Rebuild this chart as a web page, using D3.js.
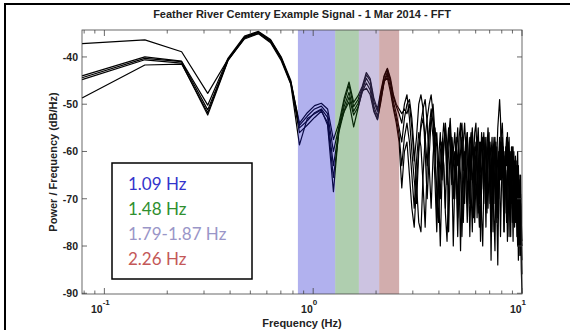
<!DOCTYPE html>
<html>
<head>
<meta charset="utf-8">
<script src="https://cdn.jsdelivr.net/npm/d3@7"></script>
<style>
  body { margin: 0; background: #fff; }
  svg { display: block; }
  .tick-label { font-family: "Liberation Sans", Arial, sans-serif; font-weight: bold; font-size: 10.5px; fill: #222; }
  .axis-title { font-family: "Liberation Sans", Arial, sans-serif; font-weight: bold; font-size: 11px; fill: #222; }
  .legend-text { font-family: Lato, "Open Sans", sans-serif; font-size: 17px; }
</style>
</head>
<body>
<svg id="chart"></svg>
<script>
// FFT bin width (Hz) - bins run 1..128 so the last one lands on 10 Hz
const binWidth = 0.078125;

// power spectral density of each trace, dB/Hz, one value per bin
const traceA = [
  -37.2, -36.4, -38.9, -47.7, -40.5, -35.8, -34.7, -36.5, -40.2, -45.3,
  -54.0, -51.8, -50.3, -49.8, -51.0, -57.5, -54.0, -48.8, -45.3, -49.6,
  -48.2, -46.2, -43.3, -44.6, -48.8, -51.0, -47.2, -43.9, -42.4, -44.5,
  -48.0, -50.0, -51.0, -52.0, -51.0,
  -52, -50, -55, -62, -57, -50, -48, -51, -60, -70,
  -61, -53, -50, -56, -74, -62, -56, -66, -60, -54,
  -59, -77, -63, -57, -61, -70, -60, -55, -66, -81,
  -65, -58, -54, -60, -71, -62, -57, -66, -56, -61,
  -75, -66, -59, -55, -63, -79, -67, -60, -65, -57,
  -62, -73, -63, -56, -66, -83, -68, -61, -57, -63,
  -71, -61, -55, -52, -49, -53, -64, -58, -67, -77,
  -65, -59, -63, -56, -69, -78, -66, -60, -71, -64,
  -59, -68, -76, -65, -62, -72, -80, -70, -65, -75,
  -71, -78, -80
];
const traceB = [
  -44.0, -40.0, -40.9, -50.2, -40.3, -35.6, -34.6, -36.3, -40.0, -45.0,
  -54.5, -52.5, -51.0, -50.4, -52.0, -60.0, -54.8, -49.5, -46.0, -50.5,
  -49.0, -46.5, -43.8, -45.0, -49.5, -51.5, -47.8, -44.2, -42.6, -45.0,
  -48.5, -50.5, -52.0, -54.0, -50.0,
  -48, -53, -60, -66, -71, -60, -54, -51, -49, -54,
  -63, -72, -61, -55, -59, -68, -80, -65, -58, -55,
  -63, -57, -53, -60, -70, -62, -57, -74, -63, -56,
  -54, -60, -71, -61, -56, -64, -78, -66, -58, -62,
  -56, -54, -61, -73, -63, -58, -68, -61, -56, -65,
  -76, -63, -57, -62, -71, -60, -65, -77, -65, -58,
  -63, -73, -84, -69, -61, -66, -60, -57, -63, -70,
  -61, -67, -75, -62, -58, -65, -73, -65, -59, -69,
  -79, -68, -62, -66, -75, -64, -60, -70, -79, -69,
  -65, -75, -79
];
const traceC = [
  -44.4, -40.3, -41.0, -51.2, -40.6, -35.9, -34.8, -36.6, -40.3, -45.4,
  -55.0, -53.5, -51.8, -51.0, -52.8, -63.0, -55.5, -50.5, -47.5, -51.5,
  -49.8, -47.0, -44.5, -46.0, -50.5, -52.5, -48.5, -45.0, -43.2, -45.5,
  -49.5, -52.0, -55.0, -58.0, -53.0,
  -50, -49, -53, -60, -67, -75, -77, -65, -57, -53,
  -50, -48, -52, -60, -56, -63, -70, -59, -54, -58,
  -67, -60, -55, -63, -80, -66, -58, -63, -57, -54,
  -62, -75, -64, -59, -56, -63, -71, -59, -55, -61,
  -70, -62, -74, -64, -58, -63, -56, -61, -71, -62,
  -57, -66, -61, -58, -68, -77, -64, -59, -71, -62,
  -58, -66, -74, -61, -57, -63, -56, -54, -59, -68,
  -60, -64, -75, -65, -60, -57, -64, -78, -66, -61,
  -68, -62, -65, -75, -67, -63, -71, -83, -71, -66,
  -72, -81, -86
];
const traceD = [
  -44.8, -40.6, -41.3, -52.3, -40.8, -36.0, -35.0, -36.8, -40.5, -45.6,
  -56.0, -54.4, -52.8, -51.5, -53.8, -65.5, -55.9, -51.4, -48.5, -52.3,
  -50.6, -47.4, -45.5, -47.0, -51.2, -53.2, -49.0, -45.3, -43.7, -46.5,
  -50.5, -53.0, -56.5, -63.0, -57.0,
  -54, -58, -65, -72, -62, -56, -59, -67, -76, -63,
  -56, -53, -57, -66, -77, -66, -60, -58, -63, -72,
  -60, -55, -59, -67, -60, -56, -63, -71, -61, -65,
  -78, -67, -61, -57, -61, -68, -59, -56, -64, -74,
  -62, -58, -61, -70, -76, -63, -59, -57, -66, -61,
  -71, -59, -55, -60, -67, -61, -57, -63, -74, -81,
  -65, -59, -64, -70, -61, -58, -66, -62, -69, -77,
  -66, -60, -57, -61, -67, -60, -62, -72, -63, -59,
  -65, -75, -66, -61, -69, -78, -67, -63, -72, -80,
  -69, -78, -83
];
const traceE = [
  -48.7, -41.7, -41.5, -51.8, -40.7, -36.2, -35.1, -37.0, -40.8, -45.8,
  -58.6, -53.0, -52.0, -51.2, -54.4, -68.5, -55.0, -51.6, -49.5, -54.8,
  -50.8, -47.2, -46.6, -48.0, -51.6, -53.3, -49.5, -45.1, -44.4, -47.4,
  -51.0, -54.0, -58.0, -67.7, -60.0,
  -58, -65, -72, -76, -67, -59, -55, -53, -57, -63,
  -55, -51, -54, -61, -68, -75, -64, -58, -63, -73,
  -79, -67, -60, -57, -63, -60, -66, -78, -66, -60,
  -57, -64, -60, -66, -75, -67, -61, -68, -77, -64,
  -59, -64, -57, -61, -71, -65, -74, -80, -67, -61,
  -59, -64, -72, -63, -58, -62, -69, -65, -60, -57,
  -64, -75, -65, -60, -67, -78, -68, -62, -59, -64,
  -73, -64, -67, -79, -68, -62, -66, -61, -67, -75,
  -64, -60, -66, -72, -63, -68, -76, -67, -73, -82,
  -75, -85, -90
];

// highlighted frequency bands (Hz) and their legend labels
const bandLabels = ["1.09 Hz", "1.48 Hz", "1.79-1.87 Hz", "2.26 Hz"];
const bandStart = [0.845, 1.275, 1.655, 2.07];
const bandEnd = [1.275, 1.655, 2.07, 2.58];
const bandFill = ["#1a1acc", "#157015", "#6a50a8", "#7a0f0f"];
const bandText = ["#3434cc", "#2f8f2f", "#9a96c8", "#c45858"];

const yTicks = [-90, -80, -70, -60, -50, -40];
const xTicks = [0.1, 1, 10];
const xTickExp = ["-1", "0", "1"];

const W = 570, H = 330;
const plot = { left: 82, top: 30, right: 522, bottom: 294 };

const svg = d3.select("#chart").attr("width", W).attr("height", H);

// figure frame (only top / left edges fall inside the picture)
svg.append("rect")
  .attr("x", 5).attr("y", 4)
  .attr("width", W + 20).attr("height", H + 20)
  .attr("fill", "none").attr("stroke", "#000").attr("stroke-width", 2);

const x = d3.scaleLog().domain([binWidth, 10]).range([plot.left, plot.right]);
const y = d3.scaleLinear().domain([-90.15, -34.3]).range([plot.bottom, plot.top]);

const traces = [traceA, traceB, traceC, traceD, traceE];

svg.append("text")
  .attr("class", "axis-title")
  .attr("x", (plot.left + plot.right) / 2).attr("y", 18)
  .attr("text-anchor", "middle")
  .text("Feather River Cemtery Example Signal - 1 Mar 2014 - FFT");

const line = d3.line()
  .x((d, i) => x((i + 1) * binWidth))
  .y(d => y(Math.max(d, -90.15)));

svg.append("g")
  .selectAll("path")
  .data(traces)
  .enter().append("path")
  .attr("d", line)
  .attr("fill", "none")
  .attr("stroke", "#000")
  .attr("stroke-width", 1.2)
  .attr("stroke-linejoin", "round");

// translucent bands go over the traces, that is why the lines look tinted
svg.append("g")
  .selectAll("rect")
  .data(bandStart)
  .enter().append("rect")
  .attr("x", (d) => x(d))
  .attr("width", (d, i) => x(bandEnd[i]) - x(d))
  .attr("y", plot.top)
  .attr("height", plot.bottom - plot.top)
  .attr("fill", (d, i) => bandFill[i])
  .attr("fill-opacity", 0.34);

// axes box with inward ticks on all four sides
const axisColor = "#444";
const box = svg.append("g");
box.append("rect")
  .attr("x", plot.left).attr("y", plot.top)
  .attr("width", plot.right - plot.left).attr("height", plot.bottom - plot.top)
  .attr("fill", "none").attr("stroke", axisColor).attr("stroke-width", 0.8);

let minorTicks = [];
[0.01, 0.1, 1].forEach(dec => {
  for (let m = 2; m <= 9; m++) {
    const v = dec * m;
    if (v > binWidth && v < 10) minorTicks.push(v);
  }
});

const xTickData = xTicks.map(v => ({ v: v, len: 6 })).concat(minorTicks.map(v => ({ v: v, len: 3.5 })));
box.selectAll(".xt-bottom")
  .data(xTickData)
  .enter().append("line")
  .attr("x1", d => x(d.v)).attr("x2", d => x(d.v))
  .attr("y1", plot.bottom).attr("y2", d => plot.bottom - d.len)
  .attr("stroke", axisColor).attr("stroke-width", 0.8);
box.selectAll(".xt-top")
  .data(xTickData)
  .enter().append("line")
  .attr("x1", d => x(d.v)).attr("x2", d => x(d.v))
  .attr("y1", plot.top).attr("y2", d => plot.top + d.len)
  .attr("stroke", axisColor).attr("stroke-width", 0.8);

box.selectAll(".yt-left")
  .data(yTicks)
  .enter().append("line")
  .attr("x1", plot.left).attr("x2", plot.left + 5)
  .attr("y1", d => y(d)).attr("y2", d => y(d))
  .attr("stroke", axisColor).attr("stroke-width", 0.8);
box.selectAll(".yt-right")
  .data(yTicks)
  .enter().append("line")
  .attr("x1", plot.right).attr("x2", plot.right - 5)
  .attr("y1", d => y(d)).attr("y2", d => y(d))
  .attr("stroke", axisColor).attr("stroke-width", 0.8);

svg.selectAll(".ylab")
  .data(yTicks)
  .enter().append("text")
  .attr("class", "tick-label")
  .attr("x", plot.left - 4)
  .attr("y", d => y(d) + 4)
  .attr("text-anchor", "end")
  .text(d => d);

// 10^n labels with the exponent raised
const xl = svg.selectAll(".xlab")
  .data(xTicks)
  .enter().append("text")
  .attr("class", "tick-label")
  .attr("x", d => x(d) - 4)
  .attr("y", plot.bottom + 19)
  .attr("text-anchor", "middle");
xl.append("tspan").text("10");
xl.append("tspan")
  .attr("dy", -8)
  .attr("font-size", "8px")
  .text((d, i) => xTickExp[i]);

svg.append("text")
  .attr("class", "axis-title")
  .attr("x", (plot.left + plot.right) / 2).attr("y", 327)
  .attr("text-anchor", "middle")
  .text("Frequency (Hz)");

svg.append("text")
  .attr("class", "axis-title")
  .attr("transform", "translate(57," + ((plot.top + plot.bottom) / 2) + ") rotate(-90)")
  .attr("text-anchor", "middle")
  .text("Power / Frequency (dB/Hz)");

// legend box
const legend = svg.append("g");
legend.append("rect")
  .attr("x", 112).attr("y", 163)
  .attr("width", 140).attr("height", 116)
  .attr("fill", "#fff").attr("stroke", "#000").attr("stroke-width", 1.5);
legend.selectAll("text")
  .data(bandLabels)
  .enter().append("text")
  .attr("class", "legend-text")
  .attr("x", 128)
  .attr("y", (d, i) => 190 + i * 25)
  .attr("fill", (d, i) => bandText[i])
  .text(d => d);
</script>
</body>
</html>
